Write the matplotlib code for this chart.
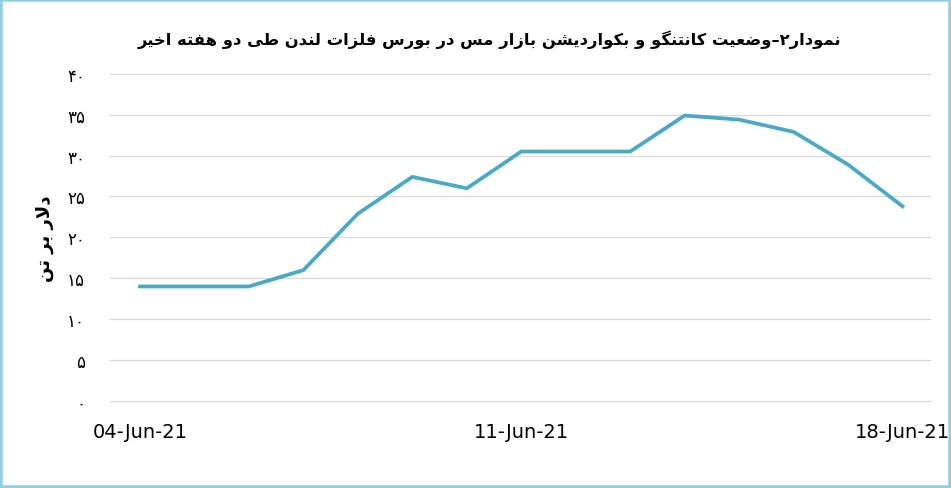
import matplotlib
matplotlib.use("Agg")
import matplotlib.pyplot as plt
from matplotlib.patches import Rectangle

# data
dates = ["04-Jun-21", "05-Jun-21", "06-Jun-21", "07-Jun-21", "08-Jun-21",
         "09-Jun-21", "10-Jun-21", "11-Jun-21", "12-Jun-21", "13-Jun-21",
         "14-Jun-21", "15-Jun-21", "16-Jun-21", "17-Jun-21", "18-Jun-21"]
spread = [14, 14, 14, 16, 22.9, 27.4, 26, 30.5, 30.5, 30.5,
          34.9, 34.4, 32.9, 28.9, 23.8]
y_ticks = [0, 5, 10, 15, 20, 25, 30, 35, 40]
x_tick_idx = [0, 7, 14]

title_fa = "نمودار۲–وضعیت کانتنگو و بکواردیشن بازار مس در بورس فلزات لندن طی دو هفته اخیر"
ylabel_fa = "دلار بر تن"


# minimal Persian shaping (matplotlib does not join Arabic letters itself)
# letter: (isolated, final, initial, medial)
FORMS = {
    "ا": ("\uFE8D", "\uFE8E", None, None),
    "د": ("\uFEA9", "\uFEAA", None, None),
    "ر": ("\uFEAD", "\uFEAE", None, None),
    "ز": ("\uFEAF", "\uFEB0", None, None),
    "و": ("\uFEED", "\uFEEE", None, None),
    "ب": ("\uFE8F", "\uFE90", "\uFE91", "\uFE92"),
    "ت": ("\uFE95", "\uFE96", "\uFE97", "\uFE98"),
    "خ": ("\uFEA5", "\uFEA6", "\uFEA7", "\uFEA8"),
    "س": ("\uFEB1", "\uFEB2", "\uFEB3", "\uFEB4"),
    "ش": ("\uFEB5", "\uFEB6", "\uFEB7", "\uFEB8"),
    "ض": ("\uFEBD", "\uFEBE", "\uFEBF", "\uFEC0"),
    "ط": ("\uFEC1", "\uFEC2", "\uFEC3", "\uFEC4"),
    "ع": ("\uFEC9", "\uFECA", "\uFECB", "\uFECC"),
    "ف": ("\uFED1", "\uFED2", "\uFED3", "\uFED4"),
    "ل": ("\uFEDD", "\uFEDE", "\uFEDF", "\uFEE0"),
    "م": ("\uFEE1", "\uFEE2", "\uFEE3", "\uFEE4"),
    "ن": ("\uFEE5", "\uFEE6", "\uFEE7", "\uFEE8"),
    "ه": ("\uFEE9", "\uFEEA", "\uFEEB", "\uFEEC"),
    "ک": ("\uFB8E", "\uFB8F", "\uFB90", "\uFB91"),
    "گ": ("\uFB92", "\uFB93", "\uFB94", "\uFB95"),
    "ی": ("\uFBFC", "\uFBFD", "\uFBFE", "\uFBFF"),
}


def dual(c):
    return c in FORMS and FORMS[c][2] is not None


def shape_fa(text):
    out = []
    i = 0
    n = len(text)
    while i < n:
        c = text[i]
        if c not in FORMS:
            out.append(c)
            i += 1
            continue
        prev = text[i - 1] if i > 0 else ""
        join_prev = dual(prev)
        # lam-alef ligature
        if c == "ل" and i + 1 < n and text[i + 1] == "ا":
            out.append("\uFEFC" if join_prev else "\uFEFB")
            i += 2
            continue
        nxt = text[i + 1] if i + 1 < n else ""
        join_next = dual(c) and nxt in FORMS
        iso, fin, ini, med = FORMS[c]
        if join_prev and join_next:
            out.append(med)
        elif join_prev:
            out.append(fin)
        elif join_next:
            out.append(ini)
        else:
            out.append(iso)
        i += 1
    return "".join(out)[::-1]


def fa_digits(v):
    return str(v).translate(str.maketrans("0123456789", "۰۱۲۳۴۵۶۷۸۹"))


fig = plt.figure(figsize=(9.51, 4.89), dpi=100)
ax = fig.add_axes([0.1157, 0.178, 0.862, 0.669])

ax.plot(range(len(spread)), spread, color="#4ba9c3", lw=2.7,
        solid_joinstyle="round", zorder=3)

ax.set_ylim(0, 40)
ax.set_xlim(-0.55, 14.5)
ax.set_yticks(y_ticks)
ax.set_yticklabels([fa_digits(v) for v in y_ticks], fontsize=12,
                   family=["DejaVu Sans"])
ax.set_xticks(x_tick_idx)
ax.set_xticklabels([dates[i] for i in x_tick_idx], fontsize=14,
                   family=["Liberation Sans Narrow", "DejaVu Sans"])
ax.tick_params(length=0)
ax.tick_params(axis="y", pad=18)
ax.tick_params(axis="x", pad=15)
ax.grid(axis="y", color="#d9d9d9", lw=0.9)
for gl in ax.get_ygridlines():
    gl.set_clip_on(False)
ax.set_axisbelow(True)
for s in ax.spines.values():
    s.set_visible(False)

fig.text(0.515, 0.918, shape_fa(title_fa), ha="center", va="center",
         fontsize=11.8, fontweight="bold", family=["DejaVu Sans"])
fig.text(0.047, 0.512, shape_fa(ylabel_fa), ha="center", va="center",
         rotation=90, fontsize=13, fontweight="bold", family=["DejaVu Sans"])

fig.patches.append(Rectangle((0, 0), 1, 1, transform=fig.transFigure,
                             fill=False, edgecolor="#93cfe0", lw=4))

fig.savefig("out.png", dpi=100)
